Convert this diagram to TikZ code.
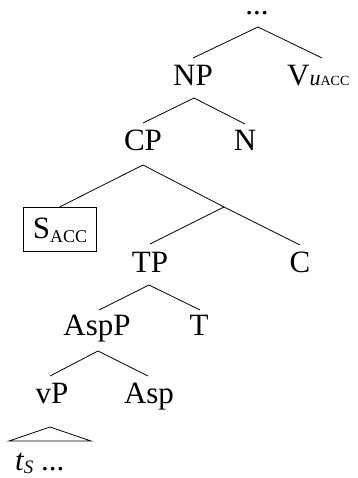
\documentclass[tikz,border=0pt]{standalone}
\usepackage{fontspec}
\setmainfont{Liberation Serif}
\begin{document}
\begin{tikzpicture}[x=1pt,y=-1pt,
  lbl/.style={inner sep=0pt, anchor=base, font=\fontsize{31}{36}\selectfont},
  br/.style={line width=0.8pt}]
\useasboundingbox (0,0) rectangle (357,478);
% labels
\node[lbl] (top) at (257,15) {...};
\node[lbl] (np) at (193,86) {NP};
\node[lbl, anchor=base west] (v) at (287,86) {V{\fontsize{22}{22}\selectfont\itshape u}{\fontsize{14}{14}\selectfont ACC}};
\node[lbl] (cp) at (143,151) {CP};
\node[lbl] (n) at (245,151) {N};
\node[draw, line width=0.8pt, inner sep=0pt, anchor=north west, minimum width=73pt,
      text height=31pt, text depth=13pt, font=\fontsize{31}{36}\selectfont] (s) at (23,207)
  {S\raisebox{-4pt}{\fontsize{18}{18}\selectfont ACC}};
\node[lbl] (tp) at (150,272) {TP};
\node[lbl] (c) at (300,272) {C};
\node[lbl] (aspp) at (97,335) {AspP};
\node[lbl] (t) at (199,335) {T};
\node[lbl] (vp) at (52,403) {vP};
\node[lbl] (asp) at (149,403) {Asp};
\node[lbl, anchor=base west] (ts) at (15,470) {\itshape t\raisebox{-3pt}{\fontsize{19}{19}\selectfont S} \upshape ...};
% branch points
\coordinate (topB) at (258,27);
\coordinate (npT) at (193,58);
\coordinate (vT) at (322,58);
\coordinate (npB) at (194,98);
\coordinate (cpT) at (143,123);
\coordinate (nT) at (245,124);
\coordinate (cpB) at (143,165);
\coordinate (sT) at (59.5,207);
\coordinate (cbar) at (224,207);
\coordinate (cT) at (300,245);
\coordinate (tpT) at (150,244);
\coordinate (tpB) at (149,285);
\coordinate (asppT) at (99,310);
\coordinate (tT) at (200,310);
\coordinate (asppB) at (98,351);
\coordinate (vpT) at (50,376);
\coordinate (aspT) at (148,376);
\coordinate (triA) at (50,427);
\coordinate (triL) at (9,441);
\coordinate (triR) at (91,441);
% connectors
\draw[br] (npT) -- (topB) -- (vT);
\draw[br] (cpT) -- (npB) -- (nT);
\draw[br] (sT) -- (cpB) -- (cbar) -- (cT);
\draw[br] (cbar) -- (tpT);
\draw[br] (asppT) -- (tpB) -- (tT);
\draw[br] (vpT) -- (asppB) -- (aspT);
\draw[br] (triL) -- (triA) -- (triR) -- cycle;
\end{tikzpicture}
\end{document}
